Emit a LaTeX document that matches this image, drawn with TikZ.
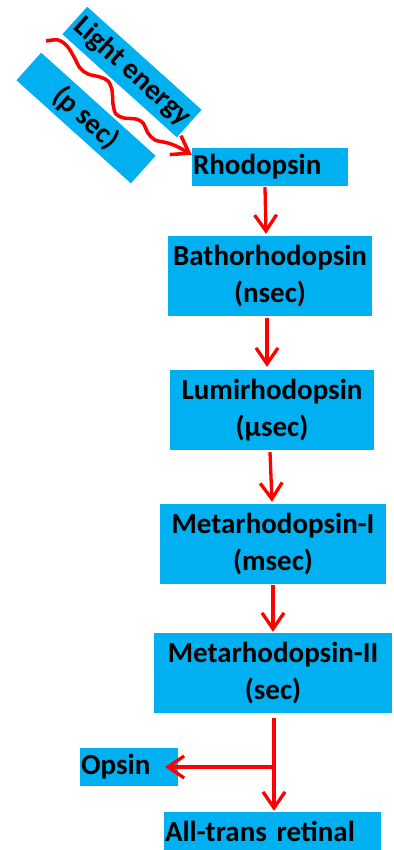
\documentclass[tikz,border=0pt]{standalone}
\usepackage{fontspec}
\setmainfont{Carlito}
\usetikzlibrary{arrows.meta,calc}
\definecolor{boxblue}{HTML}{00B0F0}
\begin{document}
\begin{tikzpicture}[x=1pt,y=-1pt,
  lbl/.style={fill=boxblue, inner xsep=1pt, inner ysep=0pt, text=black,
    font=\fontsize{29}{37}\selectfont\bfseries},
  arr/.style={draw=red, line width=3.3pt, -{Straight Barb[length=16pt,width=22pt]}},
  wave/.style={draw=red, line width=3.5pt, -{Straight Barb[length=16pt,width=22pt]}},
]
\useasboundingbox (0,0) rectangle (393,850);
% rotated labels
\node[lbl, rotate=-42, minimum width=154pt, minimum height=37pt] (light) at (132,72) {Light energy};
\node[lbl, rotate=-42, minimum width=154pt, minimum height=37pt] (psec) at (86,118) {(p sec)};
% chain
\node[lbl, minimum height=38pt, text width=154pt, align=left] (rho) at (270,167) {Rhodopsin};
\node[lbl, minimum height=80pt, text width=202pt, align=center] (batho) at (270,276) {Bathorhodopsin\\(nsec)};
\node[lbl, minimum height=80pt, text width=202pt, align=center] (lumi) at (272,410) {Lumirhodopsin\\(µsec)};
\node[lbl, minimum height=80pt, text width=224pt, align=center] (meta1) at (273,544) {Metarhodopsin-I\\(msec)};
\node[lbl, minimum height=80pt, text width=236pt, align=center] (meta2) at (273,673) {Metarhodopsin-II\\(sec)};
\node[lbl, minimum height=38pt, text width=96pt, align=left] (opsin) at (129,767) {Opsin};
\node[lbl, minimum height=38pt, text width=215pt, align=left] (atr) at (272.5,831) {All-trans retinal};
% wavy light arrow
\coordinate (lighttip) at ([yshift=-7pt]rho.north west);
\draw[wave] plot[smooth, tension=0.55] coordinates {(46,41) (58,40) (67,46) (74,57) (80,68) (88,74) (100,77) (108,81) (112,90) (113,104) (116,114) (124,118) (136,119) (143,123) (148,133) (155,140) (168,143) (178,147) (lighttip)};
% straight arrows
\draw[arr] ([xshift=-5pt,yshift=-1pt]rho.south) -- ([xshift=-4pt,yshift=2pt]batho.north);
\draw[arr] ([xshift=-3pt,yshift=-2pt]batho.south) -- ([xshift=-5pt,yshift=3pt]lumi.north);
\draw[arr] ([xshift=-2pt,yshift=-2pt]lumi.south) -- ([xshift=-1pt,yshift=2pt]meta1.north);
\draw[arr] ([yshift=-1pt]meta1.south) -- ([yshift=1pt]meta2.north);
\coordinate (m2b) at ([xshift=1pt,yshift=-5pt]meta2.south);
\coordinate (split) at (m2b |- opsin.east);
\draw[arr] (m2b) -- ([xshift=1.5pt,yshift=1pt]atr.north);
\draw[arr] (split) -- ([xshift=-13pt]opsin.east);
\end{tikzpicture}
\end{document}
